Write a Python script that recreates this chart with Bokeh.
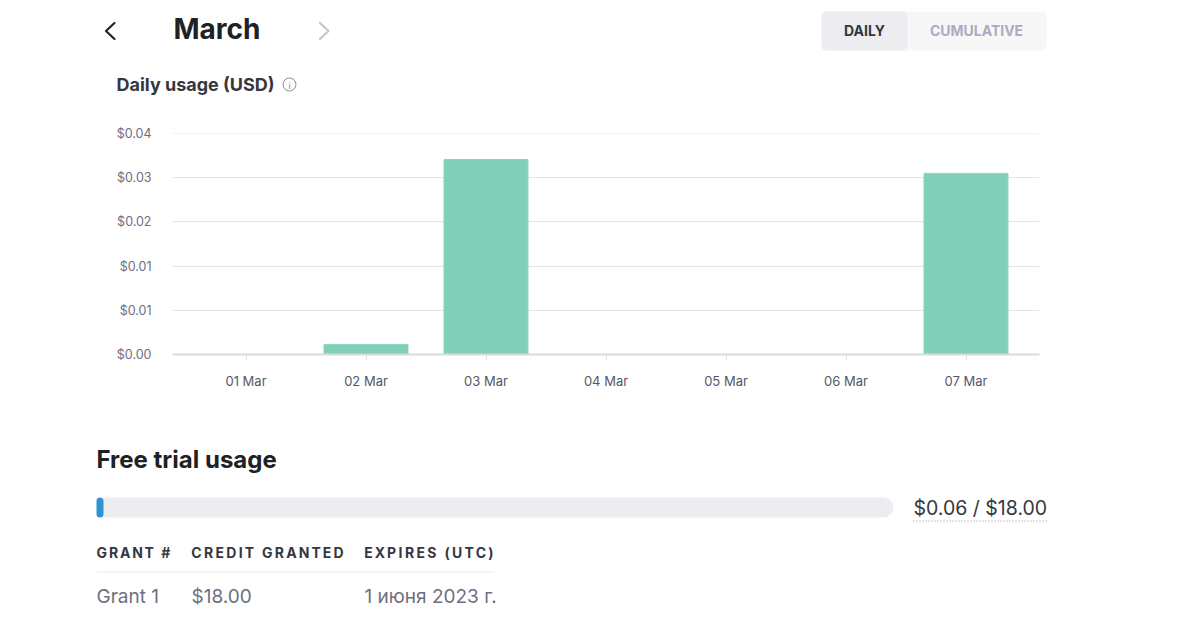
from bokeh.plotting import figure
from bokeh.models import Range1d, FixedTicker
from bokeh.layouts import column
from bokeh.core.properties import value
from bokeh.embed import file_html
from bokeh.resources import INLINE

# ---------------- data ----------------
days = ["01 Mar", "02 Mar", "03 Mar", "04 Mar", "05 Mar", "06 Mar", "07 Mar"]
usage = [0.0, 0.0016, 0.0309, 0.0, 0.0, 0.0, 0.0287]
y_ticks = [0.0, 0.007, 0.014, 0.021, 0.028, 0.035]
y_tick_labels = ["$0.00", "$0.01", "$0.01", "$0.02", "$0.03", "$0.04"]
used_total = 0.06
credit_granted = 18.00
table_headers = ["GRANT #", "CREDIT GRANTED", "EXPIRES (UTC)"]
table_row = ["Grant 1", "$18.00", "1 июня 2023 г."]

FONT = value("Inter")
W = 1180
FL, FR = 172, 1039          # horizontal frame edges shared by all figures


def blank(h):
    f = figure(width=W, height=h, x_range=Range1d(FL, FR), y_range=Range1d(h, 0),
               output_backend="svg", toolbar_location=None, title=None,
               x_axis_location=None, y_axis_location=None,
               min_border_left=FL, min_border_right=W - FR,
               min_border_top=0, min_border_bottom=0)
    f.grid.visible = False
    f.outline_line_color = None
    f.background_fill_color = "white"
    f.border_fill_color = "white"
    return f


def ov(r):
    r.level = "overlay"
    return r


# ---------------- header ----------------
H1 = 118
hd = blank(H1)
ov(hd.line(x=[114, 105.5, 114], y=[22.5, 30.5, 38.5], line_color="#202123",
           line_width=2.2, line_cap="round", line_join="round"))
ov(hd.line(x=[319.5, 328, 319.5], y=[22.5, 30.5, 38.5], line_color="#c5c5d2",
           line_width=2.2, line_cap="round", line_join="round"))
ov(hd.text(x=[173], y=[28], text=["March"], text_font=FONT, text_font_size="28px",
           text_font_style="bold", text_color="#202123", text_baseline="middle"))
ov(hd.quad(left=[821], right=[1046], top=[11], bottom=[50], fill_color="#f7f7f8",
           line_color=None, border_radius=5))
ov(hd.quad(left=[821], right=[907], top=[11], bottom=[50], fill_color="#ececf1",
           line_color=None, border_radius=5))
ov(hd.text(x=[864, 976], y=[29.5, 29.5], text=["DAILY", "CUMULATIVE"], text_font=FONT,
           text_font_size="14px", text_font_style="bold",
           text_color=["#353740", "#acacbe"], text_align="center",
           text_baseline="middle"))
ov(hd.text(x=[116], y=[84], text=["Daily usage (USD)"], text_font=FONT,
           text_font_size="18px", text_font_style="bold", text_color="#353740",
           text_baseline="middle"))
ov(hd.scatter(x=[289], y=[84], size=13, marker="circle", fill_color=None,
              line_color="#8e8ea0", line_width=1))
ov(hd.text(x=[289], y=[84.5], text=["i"], text_font=FONT, text_font_size="9px",
           text_color="#8e8ea0", text_align="center", text_baseline="middle"))

# ---------------- chart ----------------
H2 = 282
xs = list(range(1, len(days) + 1))
p = figure(width=W, height=H2, x_range=Range1d(0.3875, len(days) + 0.6125),
           y_range=Range1d(0, 0.03502), output_backend="svg", toolbar_location=None,
           title=None, min_border_left=FL, min_border_right=W - FR,
           min_border_top=15, min_border_bottom=46)
p.outline_line_color = None
p.background_fill_color = "white"
p.border_fill_color = "white"
p.vbar(x=xs, top=usage, width=0.7, fill_color="#80cfb9", line_color="#8ed4c1",
       line_width=1)

p.xgrid.visible = False
p.ygrid.ticker = FixedTicker(ticks=y_ticks)
p.ygrid.grid_line_color = "#e5e5e8"
p.ygrid.grid_line_width = 1

p.yaxis.ticker = FixedTicker(ticks=y_ticks)
p.yaxis.major_label_overrides = {t: l for t, l in zip(y_ticks, y_tick_labels)}
p.yaxis.axis_line_color = None
p.yaxis.major_tick_line_color = None
p.yaxis.minor_tick_line_color = None
p.yaxis.major_label_standoff = 15
p.yaxis.major_label_text_font = "Inter"
p.yaxis.major_label_text_font_size = "12.5px"
p.yaxis.major_label_text_color = "#6e6e80"

p.xaxis.ticker = FixedTicker(ticks=xs)
p.xaxis.major_label_overrides = {i: d for i, d in zip(xs, days)}
p.xaxis.axis_line_color = "#d9d9e0"
p.xaxis.axis_line_width = 2
p.xaxis.major_tick_line_color = "#e0e0e6"
p.xaxis.major_tick_in = 0
p.xaxis.major_tick_out = 6
p.xaxis.minor_tick_line_color = None
p.xaxis.major_label_standoff = 12
p.xaxis.major_label_text_font = "Inter"
p.xaxis.major_label_text_font_size = "13px"
p.xaxis.major_label_text_color = "#565869"

# ---------------- footer ----------------
H3 = 220
ft = blank(H3)
ov(ft.text(x=[96], y=[58.5], text=["Free trial usage"], text_font=FONT,
           text_font_size="24px", text_font_style="bold", text_color="#202123",
           text_baseline="middle"))
track_l, track_r = 96, 893
ov(ft.quad(left=[track_l], right=[track_r], top=[97], bottom=[117],
           fill_color="#ececf1", line_color=None, border_radius=10))
used_w = max(7, (track_r - track_l) * used_total / credit_granted)
ov(ft.quad(left=[track_l], right=[track_l + used_w], top=[97], bottom=[117],
           fill_color="#2e95d3", line_color=None, border_radius=4))
ov(ft.text(x=[913], y=[107.5], text=[f"${used_total:.2f} / ${credit_granted:.2f}"],
           text_font=FONT, text_font_size="19.5px", text_color="#353740",
           text_baseline="middle"))
ov(ft.line(x=[913, 1046], y=[120.5, 120.5], line_color="#8e8ea0", line_width=1,
           line_dash="1 2"))

# letter-spaced table headers (approximate Inter Bold advances, em units)
ADV = {"A": .70, "C": .72, "D": .72, "E": .58, "G": .74, "I": .28, "N": .75,
       "P": .65, "R": .66, "S": .65, "T": .63, "U": .73, "X": .68, "#": .66,
       " ": .24, "(": .36, ")": .36}
col_x = [96, 191, 364]
col_w = [74, 152, 129]
fs = 14
cx, cy, ct = [], [], []
for label, x0, wt in zip(table_headers, col_x, col_w):
    widths = [ADV.get(c, .6) * fs for c in label]
    ls = (wt - sum(widths)) / (len(label) - 1)
    pos = x0
    for c, w in zip(label, widths):
        if c != " ":
            cx.append(pos + w / 2)
            cy.append(152)
            ct.append(c)
        pos += w + ls
ov(ft.text(x=cx, y=cy, text=ct, text_font=FONT, text_font_size=f"{fs}px",
           text_font_style="bold", text_color="#353740", text_align="center",
           text_baseline="middle"))
ov(ft.line(x=[96, 494], y=[171.5, 171.5], line_color="#ececf1", line_width=1))
ov(ft.text(x=col_x, y=[196] * 3, text=table_row, text_font=FONT,
           text_font_size="19px", text_color="#6e6e80", text_baseline="middle"))

layout = column(hd, p, ft, spacing=0)
open("out.html", "w").write(file_html(layout, INLINE))
